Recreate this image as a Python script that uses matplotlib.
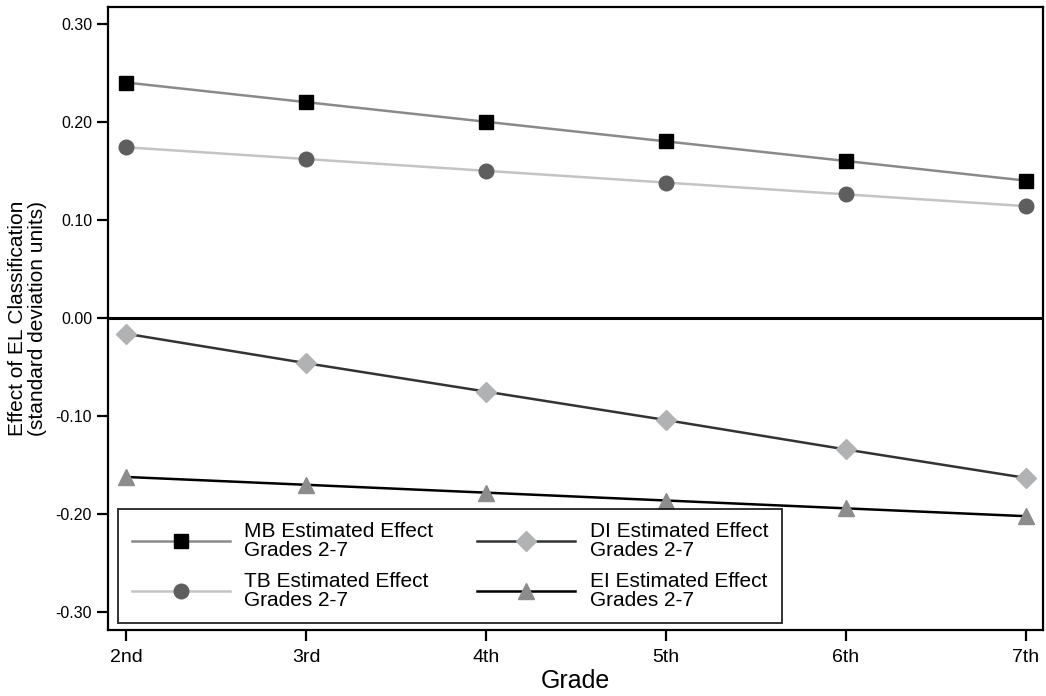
import matplotlib
matplotlib.use('Agg')
import matplotlib.pyplot as plt
import numpy as np

plt.rcParams.update({
    'font.family': ['Liberation Sans', 'DejaVu Sans'],
})

# Data
grades = ['2nd', '3rd', '4th', '5th', '6th', '7th']
grade_num = [2, 3, 4, 5, 6, 7]
mb = [0.240, 0.220, 0.200, 0.180, 0.160, 0.140]
tb = [0.174, 0.162, 0.150, 0.138, 0.126, 0.114]
di = [-0.016, -0.046, -0.075, -0.104, -0.134, -0.163]
ei = [-0.162, -0.170, -0.178, -0.186, -0.194, -0.202]
yticks = [0.30, 0.20, 0.10, 0.00, -0.10, -0.20, -0.30]

fig = plt.figure(figsize=(10.46, 6.96), dpi=100)
ax = fig.add_axes([0.1033, 0.0948, 0.8937, 0.8952])

ax.axhline(0, color='black', linewidth=2.2, zorder=2)

ax.plot(grade_num, mb, color='#8a8a8a', linewidth=1.8, marker='s',
        markersize=10.5, markerfacecolor='black', markeredgecolor='black',
        label='MB Estimated Effect\nGrades 2-7', zorder=3)
ax.plot(grade_num, tb, color='#c4c4c4', linewidth=1.8, marker='o',
        markersize=10.5, markerfacecolor='#5e5e5e', markeredgecolor='#5e5e5e',
        label='TB Estimated Effect\nGrades 2-7', zorder=3)
ax.plot(grade_num, di, color='#333333', linewidth=1.8, marker='D',
        markersize=10, markerfacecolor='#b0b2b4', markeredgecolor='#b0b2b4',
        label='DI Estimated Effect\nGrades 2-7', zorder=3)
ax.plot(grade_num, ei, color='black', linewidth=1.8, marker='^',
        markersize=12, markerfacecolor='#8c8c8c', markeredgecolor='#8c8c8c',
        label='EI Estimated Effect\nGrades 2-7', zorder=3)

ax.set_xlim(1.9, 7.094)
ax.set_ylim(-0.318, 0.317)
ax.set_xticks(grade_num)
ax.set_xticklabels(grades, fontsize=14)
ax.set_yticks(yticks)
ax.set_yticklabels([f'{v:.2f}' for v in yticks], fontsize=11.5)
ax.tick_params(axis='both', direction='out', length=8, width=1.6, colors='black')
ax.tick_params(axis='x', pad=6)

for s in ax.spines.values():
    s.set_linewidth(1.6)
    s.set_color('black')

ax.set_xlabel('Grade', fontsize=18, labelpad=2)
ax.set_ylabel('Effect of EL Classification\n(standard deviation units)',
              fontsize=15, linespacing=1.05, labelpad=6)

leg = ax.legend(loc='lower left', bbox_to_anchor=(0.011, 0.011), ncol=2,
                fontsize=15, frameon=True, fancybox=False, handlelength=4.7,
                handletextpad=0.7, columnspacing=2.1, borderpad=0.65,
                borderaxespad=0, labelspacing=0.55, markerscale=1.0)
leg.get_frame().set_edgecolor('black')
leg.get_frame().set_linewidth(1.4)
for t in leg.get_texts():
    t.set_linespacing(1.0)

fig.savefig('out.png', dpi=100, facecolor='white')
